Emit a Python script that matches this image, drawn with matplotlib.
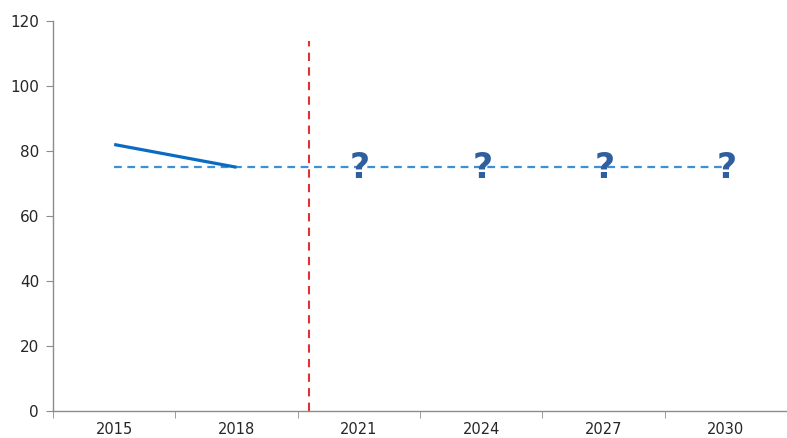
import matplotlib.pyplot as plt
import numpy as np

# data
years = ["2015", "2018", "2021", "2024", "2027", "2030"]
actual_years = ["2015", "2018"]
actual_values = [82, 75]
target_value = 75
unknown_years = ["2021", "2024", "2027", "2030"]
cutoff_pos = 1.59   # red dashed marker between 2018 and 2021
cutoff_top = 114

plt.rcParams['font.family'] = ['Liberation Sans Narrow', 'DejaVu Sans']

fig = plt.figure(figsize=(7.87, 4.38), dpi=100)
ax = fig.add_axes([53/787, 27/438, 734/787, 390/438])

x = np.arange(len(years))
xa = [years.index(y) for y in actual_years]
xu = [years.index(y) for y in unknown_years]

ax.plot(x, [target_value] * len(years), color='#3d8fd6', lw=1.6,
        linestyle=(0, (3.5, 2.5)), zorder=2)
ax.plot(xa, actual_values, color='#0a6cc0', lw=2.3, solid_capstyle='butt', zorder=3)
ax.plot([cutoff_pos, cutoff_pos], [0, cutoff_top], color='#e03232', lw=1.5,
        linestyle=(0, (4, 3)), zorder=2)

for xi in xu:
    ax.text(xi + 0.01, target_value - 0.3, "?", ha='center', va='center', fontsize=25,
            fontweight='bold', color='#2f5f9e', zorder=4)

ax.set_xlim(-0.5, 5.447)
ax.set_ylim(0, 120)
ax.set_yticks(range(0, 121, 20))
ax.set_xticks(x)
ax.set_xticklabels(years)
ax.set_xticks(np.arange(-0.5, 6, 1), minor=True)

for s in ['top', 'right']:
    ax.spines[s].set_visible(False)
for s in ['left', 'bottom']:
    ax.spines[s].set_color('#8c8c8c')
    ax.spines[s].set_linewidth(1)

ax.tick_params(axis='y', length=5, color='#8c8c8c', labelsize=11, labelcolor='#262626', pad=5)
ax.tick_params(axis='x', which='major', length=0, labelsize=10.5, labelcolor='#262626', pad=8)
ax.tick_params(axis='x', which='minor', length=5, color='#8c8c8c')

fig.savefig('out.png', dpi=100)
